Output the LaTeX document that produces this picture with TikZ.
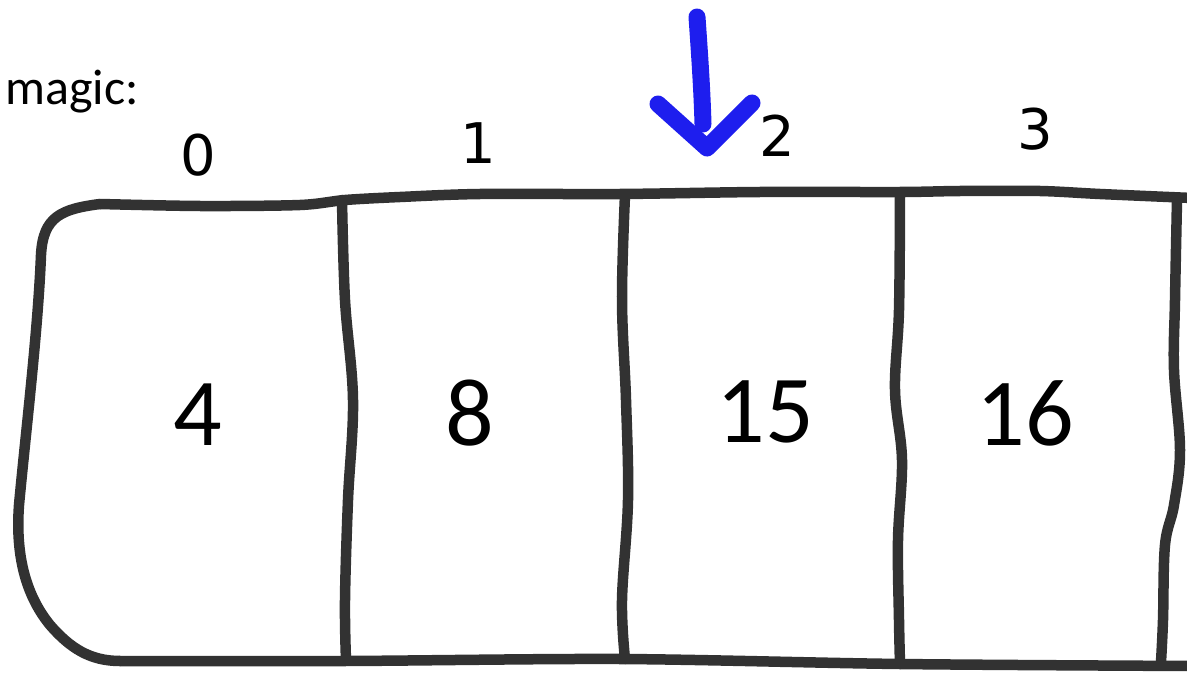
\documentclass[tikz,border=0pt]{standalone}
\usepackage{fontspec}
\setmainfont{Carlito}
\newfontfamily\handfont{DejaVu Sans}
\definecolor{ink}{RGB}{50,50,50}
\definecolor{pen}{RGB}{30,30,238}
\tikzset{
  stroke/.style={draw=ink, line width=10.5pt, line cap=round, line join=round},
  marker/.style={draw=pen, line width=17pt, line cap=round, line join=round},
  idx/.style={font=\handfont\fontsize{56}{56}\selectfont, inner sep=0pt},
  val/.style={font=\fontsize{96}{96}\selectfont, inner sep=0pt},
}
\begin{document}
\begin{tikzpicture}[x=1pt, y=-1pt]
\useasboundingbox (0,0) rectangle (1187,674);

% top edge of the array
\draw[stroke] plot[smooth, tension=0.5] coordinates {
  (1192,198) (1100,194) (1040,191) (960,191) (900,192)
  (760,192) (620,194) (480,194) (400,197) (345,200) (300,205) (200,206) (100,204)};
% rounded left end
\draw[stroke] (100,204) .. controls (62,209) and (43,216) .. (41,255)
  .. controls (38,330) and (26,430) .. (19,505)
  .. controls (15,560) and (28,598) .. (50,625)
  .. controls (70,648) and (90,661) .. (120,661);
% bottom edge
\draw[stroke] plot[smooth, tension=0.5] coordinates {
  (120,661) (345,661) (620,659) (900,664) (1192,666)};

% cell dividers
\draw[stroke] plot[smooth, tension=0.6] coordinates {
  (342,200) (345,300) (353,400) (348,500) (345,600) (346,660)};
\draw[stroke] plot[smooth, tension=0.6] coordinates {
  (625,195) (622,300) (626,400) (628,500) (622,600) (625,659)};
\draw[stroke] plot[smooth, tension=0.6] coordinates {
  (900,194) (899,310) (895,390) (902,460) (898,540) (899,620) (900,664)};
\draw[stroke] plot[smooth, tension=0.6] coordinates {
  (1177,200) (1175,300) (1174,370) (1180,450) (1174,505) (1165,545) (1163,620) (1161,662)};

% array name
\node[anchor=base west, inner sep=0pt, font=\fontsize{50}{50}\selectfont] (name) at (5,105) {magic:};

% indices
\node[idx] (i0) at (198,155) {0};
\node[idx] (i1) at (478,143) {1};
\node[idx] (i2) at (777,136) {2};
\node[idx] (i3) at (1035,129) {3};

% values
\node[val] (v0) at (198,415) {4};
\node[val] (v1) at (470,413) {8};
\node[val] (v2) at (765,412) {15};
\node[val] (v3) at (1025,413) {16};

% pointer arrow
\coordinate (stemtop) at (697,17);
\coordinate (tip) at (707,148);
\draw[marker] (stemtop) .. controls (700,60) and (702,90) .. (703,124);
\draw[marker] (658,104) -- (tip) -- (752,103);
\end{tikzpicture}
\end{document}
